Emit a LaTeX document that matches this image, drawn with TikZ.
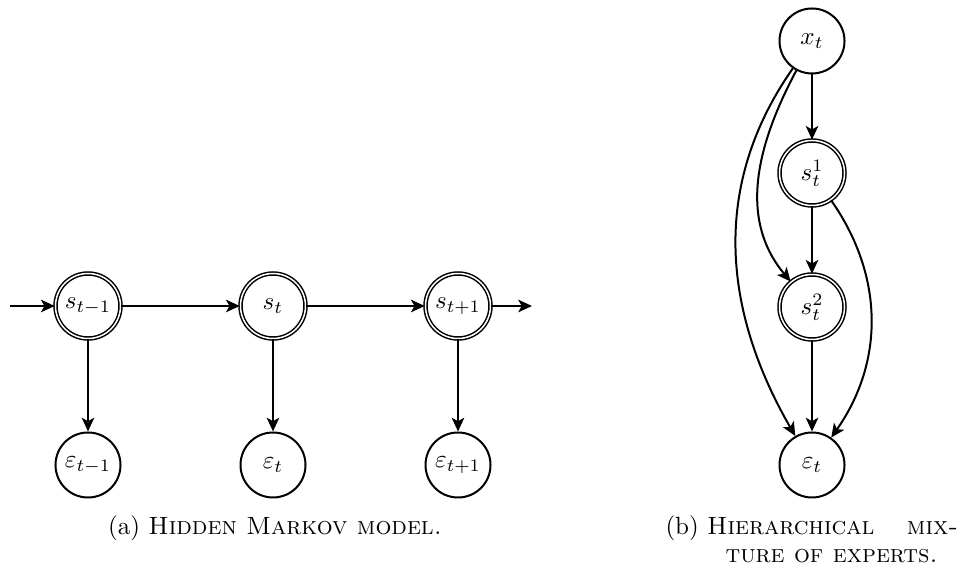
\documentclass[tikz,border=0pt]{standalone}
\usetikzlibrary{arrows.meta}
\tikzset{
  hidden/.style={circle, draw, semithick, double, double distance=0.6pt,
    minimum size=26pt, inner sep=0pt},
  observed/.style={circle, draw, thick, minimum size=26pt, inner sep=0pt},
  edge/.style={-{Stealth[length=5.5pt,width=5pt,inset=1.4pt]}, thick}
}
\begin{document}
\begin{tikzpicture}[x=0.4pt, y=-0.4pt]
    \useasboundingbox (0,0) rectangle (971,570);

    \coordinate (in) at (10,306);
    \coordinate (out) at (532,306);
    \node [hidden] (sprev) at (88,306) {$s_{t-1}$};
    \node [hidden] (scur) at (273,306) {$s_t$};
    \node [hidden] (snext) at (458,306) {$s_{t+1}$};
    \node [observed] (eprev) at (88,465) {$\varepsilon_{t-1}$};
    \node [observed] (ecur) at (273,465) {$\varepsilon_t$};
    \node [observed] (enext) at (458,465) {$\varepsilon_{t+1}$};

    \draw [edge] (in) -- (sprev);
    \draw [edge] (sprev) -- (scur);
    \draw [edge] (scur) -- (snext);
    \draw [edge] (snext) -- (out);
    \draw [edge] (sprev) -- (eprev);
    \draw [edge] (scur) -- (ecur);
    \draw [edge] (snext) -- (enext);

    \node [observed] (x) at (812,41) {$x_t$};
    \node [hidden] (sone) at (812,173) {$s_t^1$};
    \node [hidden] (stwo) at (812,307) {$s_t^2$};
    \node [observed] (eps) at (812,465) {$\varepsilon_t$};

    \draw [edge] (x) -- (sone);
    \draw [edge] (sone) -- (stwo);
    \draw [edge] (stwo) -- (eps);
    \draw [edge] (x) to[out=242, in=130] (stwo);
    \draw [edge] (x) to[out=235, in=120] (eps);
    \draw [edge] (sone) to[out=-55, in=55] (eps);

    \node [anchor=base] (capa) at (275,535)
    {(a) \textsc{Hidden Markov model.}};
    \node [anchor=base west, align=left, inner sep=0pt] (capb) at (665,562)
    {\makebox[117pt][l]{(b) \textsc{Hierarchical}\hfill\textsc{mix-}}\\[-1pt]%
    \hspace*{24pt}\textsc{ture of experts.}};
  \end{tikzpicture}
\end{document}
